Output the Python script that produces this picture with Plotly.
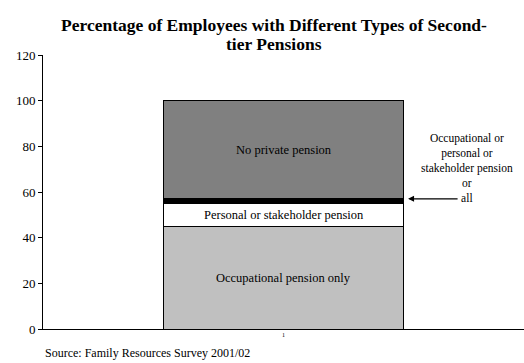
import plotly.graph_objects as go

# Stacked shares of employees by second-tier pension type (per cent)
category = ["1"]
seg_names = ["Occupational pension only", "Personal or stakeholder pension", "Occupational or personal or stakeholder pension or all", "No private pension"]
seg_values = [45, 10, 2, 43]
seg_colors = ["#c0c0c0", "#ffffff", "#000000", "#808080"]
seg_labels = ["Occupational pension only", "Personal or stakeholder pension", "", "No private pension"]
y_ticks = [0, 20, 40, 60, 80, 100, 120]
title_lines = ["Percentage of Employees with Different Types of Second-", "tier Pensions"]

serif = "Liberation Serif"

fig = go.Figure()
for name, val, col in zip(seg_names, seg_values, seg_colors):
    fig.add_trace(go.Bar(
        x=category, y=[val], name=name, width=0.5,
        marker=dict(color=col, line=dict(color="#000000", width=1)),
        showlegend=False, hoverinfo="skip",
    ))

# Labels centred in each segment
base = 0
annotations = []
for lab, val in zip(seg_labels, seg_values):
    if lab:
        annotations.append(dict(x=0, y=base + val / 2, xref="x", yref="y", text=lab, showarrow=False,
                                font=dict(family=serif, size=12.5, color="#000000")))
    base += val

# Arrow pointing at the thin "all" band
band_top = seg_values[0] + seg_values[1] + seg_values[2]
annotations.append(dict(x=0.259, y=band_top, xref="x", yref="y", text="", showarrow=True,
                        ax=51, ay=0, arrowhead=2, arrowsize=1, arrowwidth=1.2, arrowcolor="#000000"))
annotations.append(dict(x=0.8815, y=band_top, xref="paper", yref="y", xanchor="center", yanchor="bottom",
                        yshift=-7,
                        text="Occupational or<br>personal or<br>stakeholder pension<br>or<br>all",
                        showarrow=False, align="center",
                        font=dict(family=serif, size=11.5, color="#000000")))
annotations.append(dict(x=0, y=0, xref="paper", yref="paper", yanchor="middle", xanchor="left",
                        yshift=-24, text="Source: Family Resources Survey 2001/02", showarrow=False,
                        font=dict(family=serif, size=12, color="#000000")))
# Two-line bold title with tight line spacing
for line, shift in zip(title_lines, [30, 11]):
    annotations.append(dict(x=(274 - 43) / 481, y=1, xref="paper", yref="paper", xanchor="center",
                            yanchor="middle", yshift=shift, text="<b>" + line + "</b>", borderpad=0,
                            showarrow=False, font=dict(family=serif, size=17.5, color="#000000")))

fig.update_layout(
    barmode="stack",
    width=524, height=363,
    margin=dict(l=43, r=0, t=55, b=34),
    paper_bgcolor="#ffffff", plot_bgcolor="#ffffff",
    xaxis=dict(range=[-0.5, 0.5], showline=True, linecolor="#000000", linewidth=1,
               ticks="", showgrid=False, zeroline=False, type="category",
               tickfont=dict(family=serif, size=6, color="#000000")),
    yaxis=dict(range=[0, 120], tickvals=y_ticks, showline=True, linecolor="#000000", linewidth=1,
               ticks="outside", ticklen=4, tickcolor="#000000", showgrid=False, zeroline=False,
               tickfont=dict(family=serif, size=13, color="#000000")),
    annotations=annotations,
    font=dict(family=serif),
)
fig.write_html("out.html")
